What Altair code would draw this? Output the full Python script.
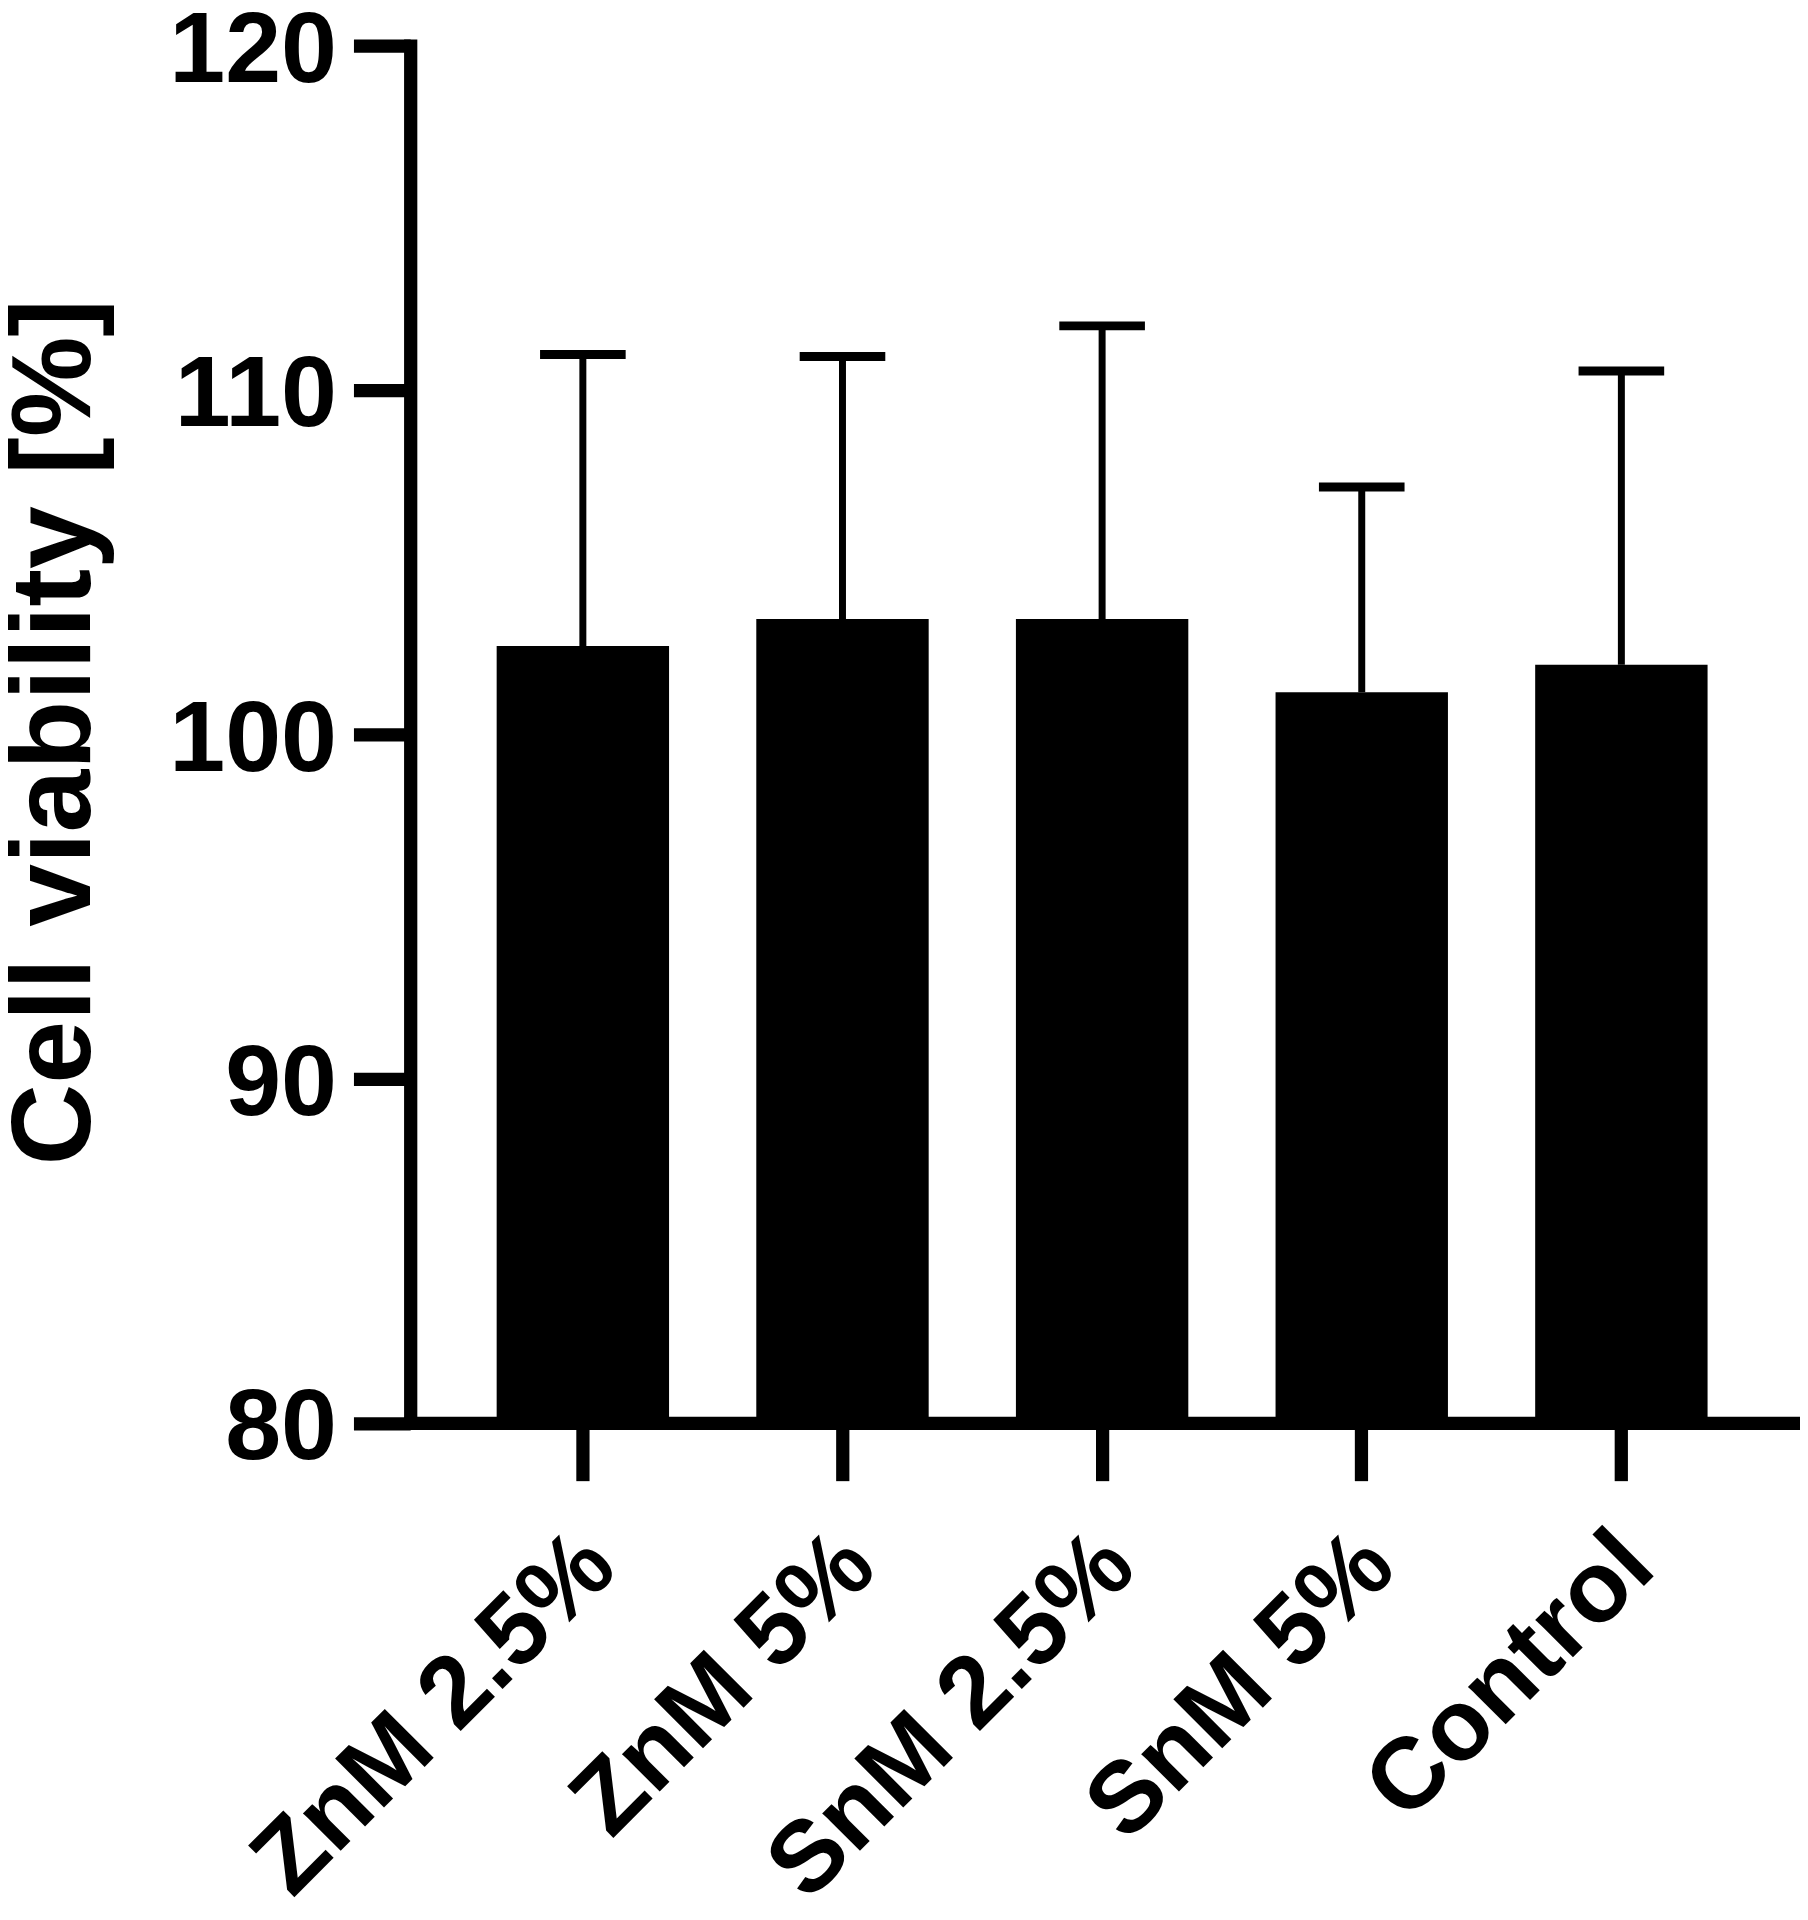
import altair as alt
import pandas as pd

categories = ["ZnM 2.5%", "ZnM 5%", "SnM 2.5%", "SnM 5%", "Control"]
means = [102.56, 103.35, 103.35, 101.22, 102.02]
sds = [8.47, 7.62, 8.51, 5.96, 8.53]
y_ticks = [80, 90, 100, 110, 120]

df = pd.DataFrame({
    "group": categories,
    "mean": means,
    "upper": [m + s for m, s in zip(means, sds)],
})

FONT = "Liberation Sans"
W, H = 1390, 1383.5
LEFT = 404

x_enc = alt.X(
    "group:N",
    sort=categories,
    scale=alt.Scale(paddingInner=0.336, paddingOuter=0.333),
    axis=alt.Axis(
        title=None,
        labelAngle=315,
        labelAlign="right",
        labelBaseline="top",
        labelOffset=-19,
        labelPadding=34,
        labelFont=FONT,
        labelFontSize=101,
        labelFontWeight="bold",
        labelColor="black",
        labelLimit=2000,
        tickSize=58,
        tickWidth=13.3,
        tickColor="black",
        domainWidth=13.3,
        domainColor="black",
        domainCap="square",
        grid=False,
    ),
)

y_scale = alt.Scale(domain=[80, 120], zero=False, nice=False)
y_axis = alt.Axis(
    values=y_ticks,
    title="Cell viability [%]",
    titleFont=FONT,
    titleFontSize=113.5,
    titleFontWeight="bold",
    titleColor="black",
    titleAngle=270,
    titleAlign="center",
    titleBaseline="alphabetic",
    titleX=90 - (LEFT + 8),
    titleY=H / 2 - 2.5,
    titleLimit=3000,
    labelFont=FONT,
    labelFontSize=101,
    labelFontWeight="bold",
    labelColor="black",
    labelPadding=17,
    labelOffset=6,
    labelLimit=2000,
    tickSize=57,
    tickWidth=13.3,
    tickColor="black",
    domainWidth=13.3,
    domainColor="black",
    domainCap="square",
    grid=False,
)

bars = alt.Chart(df).mark_bar(color="black", opacity=1).encode(
    x=x_enc,
    y=alt.Y("mean:Q", scale=y_scale, axis=y_axis),
    y2=alt.datum(80),
)

whiskers = alt.Chart(df).mark_rule(color="black", strokeWidth=7, opacity=1).encode(
    x=alt.X("group:N", sort=categories),
    y=alt.Y("mean:Q"),
    y2=alt.Y2("upper:Q"),
)

caps = alt.Chart(df).mark_tick(color="black", thickness=9, size=86, opacity=1).encode(
    x=alt.X("group:N", sort=categories),
    y=alt.Y("upper:Q"),
)

chart = alt.layer(bars, whiskers, caps).properties(
    width=W,
    height=H,
    autosize=alt.AutoSizeParams(type="none"),
    padding={"left": LEFT, "top": 33.5, "right": 6, "bottom": 480},
    background="white",
).configure_view(stroke=None)

chart.save("out.html", embed_options={"renderer": "svg", "actions": False})
